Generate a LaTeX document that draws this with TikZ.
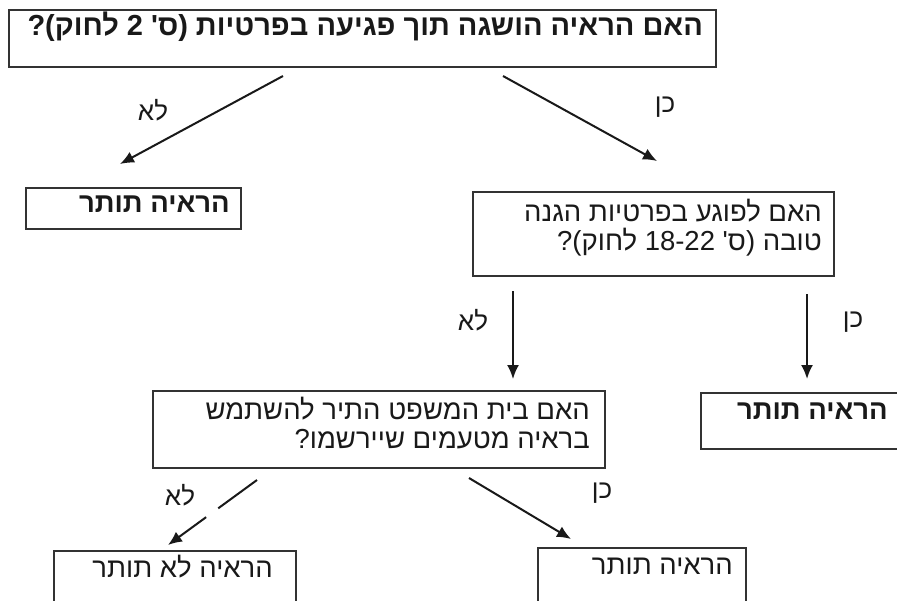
\documentclass[tikz,border=0pt]{standalone}
\usepackage{fontspec}
\setmainfont{Liberation Sans}
\newfontfamily\heb[Script=Hebrew]{Liberation Sans}
\TeXXeTstate=1
\usetikzlibrary{arrows.meta}
\begin{document}
\begin{tikzpicture}[x=1pt,y=-1pt,
  box/.style={draw=black!80, line width=1.6pt, rectangle, inner sep=0pt, anchor=north west},
  txt/.style={font=\heb\fontsize{27.5}{28.5}\selectfont, inner sep=0pt, align=right, text=black!90},
  btxt/.style={txt, font=\heb\bfseries\fontsize{27.5}{28.5}\selectfont},
  lab/.style={font=\heb\fontsize{26}{28}\selectfont, inner sep=0pt, text=black!90},
  arr/.style={line width=2pt, draw=black!90, -{Latex[length=14pt,width=12pt]}}]
\useasboundingbox (0,0) rectangle (897,600);
\fill[white] (0,0) rectangle (897,600);
\clip (0,0) rectangle (897,600);

% boxes
\node[box, minimum width=707pt, minimum height=57pt] (q1) at (8,9) {};
\node[box, minimum width=215pt, minimum height=41pt] (a) at (25,187) {};
\node[box, minimum width=361pt, minimum height=84pt] (q2) at (472,191) {};
\node[box, minimum width=452pt, minimum height=77pt] (q3) at (152,390) {};
\node[box, minimum width=220pt, minimum height=56pt] (d) at (700,392) {};
\node[box, minimum width=242pt, minimum height=90pt] (e) at (53,550) {};
\node[box, minimum width=208pt, minimum height=93pt] (f) at (537,547) {};

% texts
\node[btxt, font=\heb\bfseries\fontsize{29}{30}\selectfont, anchor=base east] (q1t) at (703,35) {\beginR האם הראיה הושגה תוך פגיעה בפרטיות (ס' 2 לחוק)?\endR};
\node[btxt, anchor=base east] (at) at (230,212) {\beginR הראיה תותר\endR};
\node[txt, anchor=north east] (q2t) at (822,199) {\beginR האם לפוגע בפרטיות הגנה\endR\\\beginR טובה (ס' \beginL 18-22\endL{} לחוק)?\endR};
\node[txt, anchor=north east] (q3t) at (590,397) {\beginR האם בית המשפט התיר להשתמש\endR\\\beginR בראיה מטעמים שיירשמו?\endR};
\node[btxt, anchor=base east] (dt) at (888,419) {\beginR הראיה תותר\endR};
\node[txt, anchor=base east] (et) at (273,577) {\beginR הראיה לא תותר\endR};
\node[txt, anchor=base east] (ft) at (733,574) {\beginR הראיה תותר\endR};

% arrow end points
\coordinate (s1) at (283,76);  \coordinate (t1) at (120,164);
\coordinate (s2) at (503,76);  \coordinate (t2) at (657,161);
\coordinate (s3) at (513,291); \coordinate (t3) at (513,379);
\coordinate (s4) at (807,294); \coordinate (t4) at (807,379);
\coordinate (s5) at (257,480); \coordinate (t5) at (168,545);
\coordinate (s6) at (469,478); \coordinate (t6) at (571,539);

\draw[arr] (s1) -- (t1);
\draw[arr] (s2) -- (t2);
\draw[arr] (s3) -- (t3);
\draw[arr] (s4) -- (t4);
\draw[arr, dash pattern=on 48pt off 15pt on 300pt] (s5) -- (t5);
\draw[arr] (s6) -- (t6);

% labels
\node[lab] (l1) at (153,110) {\beginR לא\endR};
\node[lab] (l2) at (665,107) {\beginR כן\endR};
\node[lab] (l3) at (473,320) {\beginR לא\endR};
\node[lab] (l4) at (853,322) {\beginR כן\endR};
\node[lab] (l5) at (180,495) {\beginR לא\endR};
\node[lab] (l6) at (602,493) {\beginR כן\endR};
\end{tikzpicture}
\end{document}
